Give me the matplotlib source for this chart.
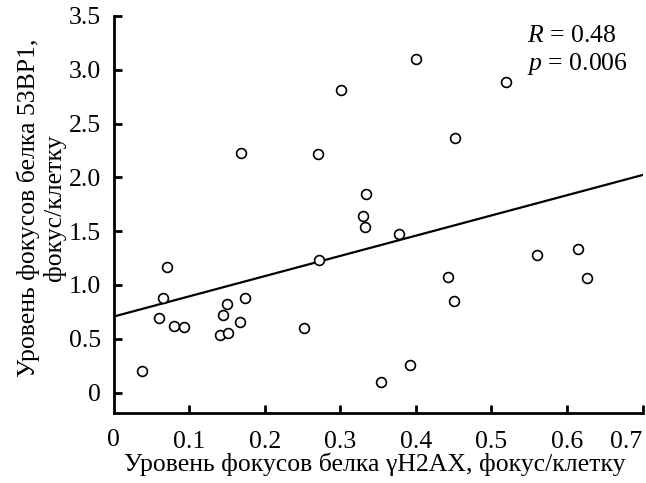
import numpy as np
import matplotlib
matplotlib.use("Agg")
import matplotlib.pyplot as plt

# gammaH2AX foci level vs 53BP1 foci level (foci per cell)
h2ax = [0.038, 0.060, 0.066, 0.071, 0.080, 0.093, 0.141, 0.145, 0.150, 0.152,
        0.167, 0.174, 0.169, 0.2525, 0.270, 0.2715, 0.301, 0.330, 0.333, 0.334,
        0.3535, 0.378, 0.392, 0.400, 0.442, 0.450, 0.452, 0.520, 0.561, 0.614, 0.626]
bp53 = [0.20, 0.694, 0.88, 1.17, 0.62, 0.61, 0.536, 0.725, 0.82, 0.55,
        0.66, 0.877, 2.23, 0.60, 2.22, 1.233, 2.81, 1.645, 1.54, 1.85,
        0.097, 1.475, 0.255, 3.10, 1.07, 0.855, 2.37, 2.89, 1.28, 1.335, 1.066]

# regression line
fit_intercept = 0.706
fit_slope = 1.88
fit_x = [0.0, 0.7]

xticks = [0, 0.1, 0.2, 0.3, 0.4, 0.5, 0.6, 0.7]
xticklabels = ["0", "0.1", "0.2", "0.3", "0.4", "0.5", "0.6", "0.7"]
yticks = [0, 0.5, 1.0, 1.5, 2.0, 2.5, 3.0, 3.5]
yticklabels = ["0", "0.5", "1.0", "1.5", "2.0", "2.5", "3.0", "3.5"]

FS = 18.5
plt.rcParams["font.family"] = ["Liberation Serif", "DejaVu Serif"]
plt.rcParams["mathtext.fontset"] = "custom"
plt.rcParams["mathtext.rm"] = "Liberation Serif"
plt.rcParams["mathtext.it"] = "Liberation Serif:italic"

fig = plt.figure(figsize=(6.46, 4.83), dpi=100)
ax = fig.add_axes([113.5 / 646, (483 - 413) / 483, (642.5 - 113.5) / 646, (413 - 16) / 483])

ax.scatter(h2ax, bp53, s=50, facecolors="white", edgecolors="black", linewidths=1.2, zorder=3)
fx = np.array(fit_x)
ax.plot(fx, fit_intercept + fit_slope * fx, color="black", lw=1.6, zorder=2)

ax.set_xlim(0, 0.7)
ax.set_ylim(-0.19, 3.5)
ax.set_xticks(xticks[1:])
ax.set_xticklabels(xticklabels[1:])
ax.get_xticklabels()[-1].set_horizontalalignment("right")
ax.set_yticks(yticks)
ax.set_yticklabels(yticklabels)
# the "0" of the x axis sits under the corner, without a tick
ax.text(xticks[0], -0.34, xticklabels[0], ha="center", va="top", fontsize=FS)

for s in ["top", "right"]:
    ax.spines[s].set_visible(False)
for s in ["left", "bottom"]:
    ax.spines[s].set_linewidth(2.0)

ax.tick_params(direction="in", length=6, width=2.0, labelsize=FS)
ax.tick_params(axis="x", pad=13)
ax.tick_params(axis="y", pad=9)

ax.set_xlabel("Уровень фокусов белка γH2AX, фокус/клетку", fontsize=FS, va="top")
ax.xaxis.set_label_coords(0.493, -0.1)
ax.set_ylabel("Уровень фокусов белка 53BP1,\nфокус/клетку", fontsize=FS, linespacing=1.15)
ax.yaxis.set_label_coords(-0.09, 0.516)

ax.text(0.782, 0.978, "$R$ = 0.48\n$p$ = 0.006", transform=ax.transAxes,
        ha="left", va="top", fontsize=FS, linespacing=1.25)

fig.savefig("out.png", dpi=100)
